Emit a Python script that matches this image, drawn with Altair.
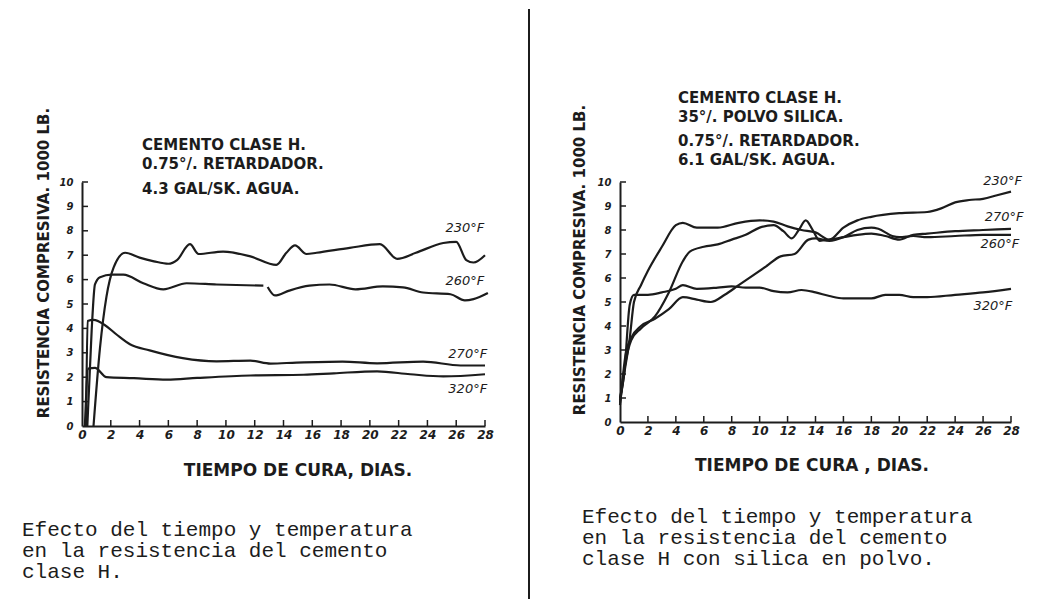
import altair as alt
import pandas as pd

INK = "#1c1c1c"

# ---------------- Left panel: Cemento clase H ----------------
L230_x = [0.8, 1.25, 1.7, 2.2, 3.0, 4.0, 5.0, 6.0, 6.6, 7.5, 8.1, 9.8, 11.7, 13.5, 14.2, 14.8, 15.6, 16.3, 18.6, 20.7, 21.9, 23.2, 25.1, 26.0, 26.7, 27.2, 28.0]
L230_y = [0.0, 3.2, 5.3, 6.5, 7.1, 6.9, 6.75, 6.65, 6.8, 7.45, 7.05, 7.15, 6.95, 6.6, 7.1, 7.4, 7.05, 7.1, 7.3, 7.45, 6.85, 7.1, 7.5, 7.55, 6.8, 6.7, 7.0]

L260a_x = [0.37, 0.67, 0.9, 1.25, 2.06, 2.87, 4.26, 5.65, 7.27, 9.35, 12.6]
L260a_y = [0.0, 3.9, 5.8, 6.1, 6.2, 6.2, 5.85, 5.6, 5.85, 5.8, 5.75]
L260b_x = [12.9, 13.4, 14.4, 15.8, 17.2, 19.0, 20.9, 22.3, 23.7, 25.6, 26.6, 27.2, 28.2]
L260b_y = [5.7, 5.35, 5.55, 5.75, 5.8, 5.6, 5.72, 5.68, 5.47, 5.4, 5.15, 5.2, 5.45]

L270_x = [0.28, 0.39, 0.8, 1.6, 2.4, 3.33, 4.7, 7.0, 9.35, 11.7, 13.1, 14.9, 18.1, 20.5, 23.7, 26.3, 28.0]
L270_y = [0.0, 4.3, 4.35, 4.13, 3.75, 3.35, 3.1, 2.78, 2.65, 2.68, 2.56, 2.6, 2.64, 2.57, 2.64, 2.48, 2.48]

L320_x = [0.2, 0.44, 0.9, 1.7, 3.6, 5.9, 8.0, 11.7, 15.4, 17.5, 20.5, 22.8, 25.1, 28.0]
L320_y = [0.0, 2.35, 2.38, 2.0, 1.96, 1.9, 1.97, 2.07, 2.1, 2.16, 2.24, 2.12, 2.03, 2.12]

L_lab_text = ["230°F", "260°F", "270°F", "320°F"]
L_lab_x = [26.6, 26.6, 26.8, 26.8]
L_lab_y = [8.1, 5.95, 2.95, 1.5]

L_header = ["CEMENTO CLASE H.", "0.75°/. RETARDADOR.", "4.3 GAL/SK. AGUA."]
L_caption = ["Efecto del tiempo y temperatura", "en la resistencia del  cemento", "clase H."]

# ---------------- Right panel: con sílica en polvo ----------------
R230_x = [0.0, 0.3, 0.7, 1.0, 1.5, 2.0, 3.0, 4.0, 4.5, 5.5, 7.0, 8.5, 10.0, 11.0, 12.0, 13.0, 14.0, 15.0, 16.0, 17.0, 18.0, 20.0, 22.0, 23.0, 24.0, 25.0, 26.0, 27.0, 28.0]
R230_y = [0.8, 2.0, 3.5, 5.0, 5.7, 6.3, 7.3, 8.2, 8.3, 8.1, 8.1, 8.3, 8.4, 8.35, 8.15, 8.0, 7.9, 7.6, 8.1, 8.4, 8.55, 8.7, 8.75, 8.9, 9.15, 9.25, 9.3, 9.45, 9.6]

R270_x = [0.0, 0.4, 0.8, 1.5, 2.5, 3.5, 4.5, 5.0, 6.0, 7.0, 8.0, 9.0, 10.0, 11.0, 11.7, 12.3, 12.8, 13.3, 13.8, 14.3, 15.0, 16.0, 17.0, 18.0, 19.0, 20.0, 21.0, 22.0, 24.0, 26.0, 28.0]
R270_y = [0.9, 2.5, 3.4, 3.9, 4.4, 5.4, 6.7, 7.1, 7.3, 7.4, 7.6, 7.8, 8.1, 8.2, 7.95, 7.65, 8.0, 8.4, 8.0, 7.55, 7.6, 7.7, 7.8, 7.85, 7.75, 7.6, 7.8, 7.85, 7.95, 8.0, 8.05]

R260_x = [0.0, 0.4, 0.8, 1.5, 2.5, 3.5, 4.5, 5.5, 6.5, 7.5, 8.5, 9.5, 10.5, 11.5, 12.5, 13.5, 14.0, 15.0, 16.0, 17.0, 18.0, 18.5, 19.5, 20.0, 21.0, 22.0, 24.0, 26.0, 28.0]
R260_y = [0.7, 2.8, 3.5, 4.0, 4.3, 4.7, 5.2, 5.1, 5.0, 5.3, 5.7, 6.1, 6.5, 6.9, 7.0, 7.6, 7.65, 7.55, 7.7, 8.0, 8.1, 8.05, 7.75, 7.7, 7.75, 7.7, 7.75, 7.8, 7.8]

R320_x = [0.0, 0.3, 0.7, 1.0, 2.0, 3.0, 4.0, 4.5, 5.5, 7.0, 8.0, 9.0, 10.0, 11.0, 12.0, 13.0, 14.0, 15.0, 16.0, 17.0, 18.0, 19.0, 20.0, 21.0, 22.0, 24.0, 26.0, 28.0]
R320_y = [1.0, 2.0, 4.9, 5.3, 5.3, 5.4, 5.55, 5.7, 5.55, 5.6, 5.65, 5.6, 5.6, 5.45, 5.4, 5.5, 5.4, 5.25, 5.15, 5.15, 5.15, 5.3, 5.3, 5.2, 5.2, 5.3, 5.4, 5.55]

R_lab_text = ["230°F", "270°F", "260°F", "320°F"]
R_lab_x = [27.4, 27.5, 27.2, 26.7]
R_lab_y = [10.04, 8.54, 7.42, 4.83]

R_header = ["CEMENTO CLASE H.", "35°/. POLVO SILICA.", "0.75°/. RETARDADOR.", "6.1 GAL/SK. AGUA."]
R_caption = ["Efecto del tiempo y temperatura", "en la resistencia del  cemento", "clase H con silica en polvo."]

X_TICKS = list(range(0, 29, 2))
Y_TICKS = list(range(0, 11))
Y_TITLE = "RESISTENCIA COMPRESIVA. 1000 LB."
X_TITLE_L = "TIEMPO DE CURA, DIAS."
X_TITLE_R = "TIEMPO DE CURA ,  DIAS."


def lines_frame(series):
    rows = []
    for name, xs, ys in series:
        for a, b in zip(xs, ys):
            rows.append({"dia": a, "valor": b, "serie": name})
    return pd.DataFrame(rows)


def text_layer(txt, px, py, size, font="DejaVu Sans", style="normal", weight="normal",
               align="left", baseline="alphabetic", angle=0):
    return alt.Chart(pd.DataFrame({"k": [0]})).mark_text(
        text=txt, font=font, fontSize=size, fontStyle=style, fontWeight=weight, color=INK,
        align=align, baseline=baseline, angle=angle
    ).encode(x=alt.value(px), y=alt.value(py))


def panel(df, lab, W, H, header, header_x, header_ys, ytitle_xy, xtitle, xtitle_xy,
          caption, caption_x, caption_ys, extra=None):
    xsc = alt.Scale(domain=[0, 28], nice=False)
    ysc = alt.Scale(domain=[0, 10], nice=False)
    xaxis = alt.Axis(values=X_TICKS, ticks=False, grid=False, title=None, labelPadding=3,
                     domainColor=INK, domainWidth=2, labelFont="DejaVu Sans",
                     labelFontStyle="italic", labelFontWeight="bold", labelFontSize=12,
                     labelColor=INK, labelFlush=False, labelOverlap=False,
                     labelSeparation=0)
    yaxis = alt.Axis(values=Y_TICKS, ticks=False, grid=False, title=None, labelPadding=9,
                     domainColor=INK, domainWidth=2, labelFont="DejaVu Sans",
                     labelFontStyle="italic", labelFontWeight="bold", labelFontSize=10,
                     labelColor=INK, labelFlush=False, labelOverlap=False,
                     labelSeparation=0)
    X = alt.X("dia:Q", scale=xsc, axis=xaxis)
    Y = alt.Y("valor:Q", scale=ysc, axis=yaxis)
    curves = alt.Chart(df).mark_line(color=INK, strokeWidth=2.2, interpolate="monotone").encode(
        x=X, y=Y, detail="serie:N")
    xt = alt.Chart(pd.DataFrame({"dia": X_TICKS[1:]})).mark_rule(color=INK, strokeWidth=1.5).encode(
        x=X, y=alt.value(H), y2=alt.value(H - 6))
    yt = alt.Chart(pd.DataFrame({"valor": Y_TICKS[1:]})).mark_rule(color=INK, strokeWidth=1.5).encode(
        y=Y, x=alt.value(0), x2=alt.value(6))
    labels = alt.Chart(lab).mark_text(font="DejaVu Sans", fontStyle="italic", fontSize=13,
                                      color=INK, align="center", baseline="middle").encode(
        x=X, y=Y, text="texto:N")
    layers = [curves, xt, yt, labels]
    for line, yy in zip(header, header_ys):
        layers.append(text_layer(line, header_x, yy, 15, weight="bold"))
    layers.append(text_layer(Y_TITLE, ytitle_xy[0], ytitle_xy[1], 15, weight="bold",
                             align="center", baseline="middle", angle=270))
    layers.append(text_layer(xtitle, xtitle_xy[0], xtitle_xy[1], 17, weight="bold",
                             align="center", baseline="middle"))
    for line, yy in zip(caption, caption_ys):
        layers.append(text_layer(line, caption_x, yy, 21, font="Liberation Mono",
                                 baseline="middle"))
    if extra is not None:
        layers.append(extra)
    return alt.layer(*layers).properties(width=W, height=H)


left_df = lines_frame([
    ("230", L230_x, L230_y), ("260a", L260a_x, L260a_y), ("260b", L260b_x, L260b_y),
    ("270", L270_x, L270_y), ("320", L320_x, L320_y)])
left_lab = pd.DataFrame({"dia": L_lab_x, "valor": L_lab_y, "texto": L_lab_text})

right_df = lines_frame([
    ("230", R230_x, R230_y), ("270", R270_x, R270_y),
    ("260", R260_x, R260_y), ("320", R320_x, R320_y)])
right_lab = pd.DataFrame({"dia": R_lab_x, "valor": R_lab_y, "texto": R_lab_text})

LW, LH = 403, 244
RW, RH = 391, 240

divider = alt.Chart(pd.DataFrame({"k": [0]})).mark_rule(color=INK, strokeWidth=2).encode(
    x=alt.value(447), y=alt.value(-173), y2=alt.value(418))

left = panel(left_df, left_lab, LW, LH, L_header, 60, [-32, -13, 12], (-38, 81),
             X_TITLE_L, (216, 289), L_caption, -60, [348, 369, 390], extra=divider)
right = panel(right_df, right_lab, RW, RH, R_header, 58, [-79, -60, -36, -17], (-40, 78),
              X_TITLE_R, (192, 284), R_caption, -38, [335, 356, 377])

chart = alt.hconcat(left, right, spacing=135, bounds="flush").properties(
    padding={"left": 14, "top": 0, "right": 0, "bottom": 0}
).configure_view(stroke=None)

chart.save("out.html", embed_options={"renderer": "svg", "actions": False})
